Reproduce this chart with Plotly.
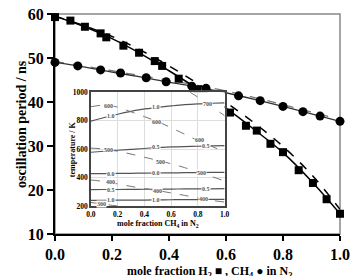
import plotly.graph_objects as go

# ---------------- main data ----------------
x_h2 = [0.0, 0.054, 0.105, 0.16, 0.18, 0.24, 0.295, 0.35, 0.376, 0.434, 0.50,
        0.614, 0.67, 0.708, 0.756, 0.80, 0.855, 0.905, 0.953, 1.0]
y_h2 = [59.3, 58.5, 57.1, 55.6, 54.7, 52.8, 51.2, 49.3, 48.2, 45.3, 42.9,
        37.6, 34.6, 33.5, 30.5, 28.6, 24.5, 21.6, 17.9, 14.6]

x_ch4 = [0.0, 0.08, 0.16, 0.23, 0.32, 0.39, 0.48, 0.53, 0.644, 0.72, 0.80, 0.87, 0.93, 1.0]
y_ch4 = [49.0, 48.2, 47.3, 46.6, 45.5, 44.6, 43.6, 43.1, 41.4, 40.3, 39.0, 37.8, 36.8, 35.6]

x_fit = [0.0, 0.1, 0.2, 0.3, 0.4, 0.5, 0.6, 0.7, 0.8, 0.9, 1.0]
h2_solid = [59.5, 57.2, 54.4, 51.0, 47.1, 43.0, 38.6, 33.7, 28.5, 22.0, 14.6]
h2_dash = [59.5, 57.4, 54.9, 51.8, 48.2, 44.2, 39.9, 35.2, 29.9, 23.5, 15.6]
ch4_solid = [49.0, 48.0, 46.8, 45.7, 44.5, 43.4, 42.1, 40.6, 39.0, 37.3, 35.6]
ch4_dash = [49.2, 48.2, 47.1, 46.0, 44.9, 43.8, 42.5, 41.0, 39.4, 37.7, 36.0]

# ---------------- inset data ----------------
xi = [0.0, 0.1, 0.2, 0.3, 0.4, 0.5, 0.6, 0.7, 0.8, 0.9, 1.0]
phi10_hi = [797, 822, 845, 865, 882, 893, 903, 912, 918, 922, 925]
phi05_hi = [578, 585, 592, 598, 604, 612, 615, 618, 620, 622, 624]
phi00 = [427, 428, 429, 430, 431, 432, 433, 434, 435, 436, 437]
phi05_lo = [315, 316, 316, 317, 318, 318, 319, 320, 321, 321, 322]
phi10_lo = [240, 240, 241, 242, 242, 243, 244, 245, 245, 246, 247]

t600 = [898, 908, 895, 862, 828, 793, 750, 705, 660, 620, 583]
t500 = [607, 600, 585, 565, 543, 520, 497, 470, 440, 408, 376]
t400 = [383, 372, 355, 338, 322, 308, 292, 275, 257, 240, 228]
x700 = [0.74, 0.8, 0.9, 1.0]
t700 = [1000, 965, 900, 835]
x300 = [0.0, 0.1, 0.2]
t300 = [225, 212, 200]

solid_labels = [("1.0", 0.15, 830), ("1.0", 0.49, 895), ("0.5", 0.49, 612), ("0.5", 0.86, 620),
                ("0.0", 0.15, 428), ("0.0", 0.49, 432), ("0.5", 0.15, 316), ("0.5", 0.86, 321),
                ("1.0", 0.15, 240), ("1.0", 0.49, 243)]
dash_labels = [("600", 0.13, 905), ("600", 0.49, 793), ("600", 0.81, 665), ("700", 0.87, 920),
               ("500", 0.13, 595), ("500", 0.52, 512), ("500", 0.83, 430),
               ("400", 0.15, 366), ("400", 0.5, 308), ("400", 0.84, 252), ("300", 0.08, 214)]

FONT = "Liberation Serif"
fig = go.Figure()

# main curves
fig.add_trace(go.Scatter(x=x_fit, y=ch4_dash, mode="lines", line=dict(color="#777", width=1.3, dash="dash", shape="spline"), cliponaxis=False))
fig.add_trace(go.Scatter(x=x_fit, y=ch4_solid, mode="lines", line=dict(color="#333", width=1.3, shape="spline"), cliponaxis=False))
fig.add_trace(go.Scatter(x=x_fit, y=h2_dash, mode="lines", line=dict(color="black", width=1.5, dash="dash", shape="spline"), cliponaxis=False))
fig.add_trace(go.Scatter(x=x_fit, y=h2_solid, mode="lines", line=dict(color="black", width=1.5, shape="spline"), cliponaxis=False))
fig.add_trace(go.Scatter(x=x_h2, y=y_h2, mode="markers", marker=dict(symbol="square", size=8, color="black"), cliponaxis=False))
fig.add_trace(go.Scatter(x=x_ch4, y=y_ch4, mode="markers", marker=dict(symbol="circle", size=9, color="black"), cliponaxis=False))

# inset curves
for ys in [phi10_hi, phi05_hi, phi00, phi05_lo, phi10_lo]:
    fig.add_trace(go.Scatter(x=xi, y=ys, mode="lines", xaxis="x2", yaxis="y2",
                             line=dict(color="#555", width=1.2, shape="spline")))
for xs, ys in [(xi, t600), (xi, t500), (xi, t400), (x700, t700), (x300, t300)]:
    fig.add_trace(go.Scatter(x=xs, y=ys, mode="lines", xaxis="x2", yaxis="y2",
                             line=dict(color="#777", width=1, dash="dash", shape="spline")))

annotations = []
for txt, x, y in solid_labels + dash_labels:
    annotations.append(dict(x=x, y=y, xref="x2", yref="y2", text=txt, showarrow=False,
                            font=dict(family=FONT, size=6, color="#555", weight="bold"),
                            bgcolor="white", borderpad=0))

annotations += [
    dict(x=-0.153, y=0.5, xref="paper", yref="paper", text="oscillation period / ns", textangle=-90,
         showarrow=False, font=dict(family=FONT, size=14, color="black", weight="bold")),
    dict(x=0.541, y=-0.128, xref="paper", yref="paper", yanchor="top",
         text="mole fraction H<sub>2</sub> ■ , CH<sub>4</sub> ● in N<sub>2</sub>",
         showarrow=False, font=dict(family=FONT, size=12, color="black", weight="bold")),
    dict(x=0.3605, y=0.078, xref="paper", yref="paper", yanchor="top",
         text="mole fraction CH<sub>4</sub> in N<sub>2</sub>",
         showarrow=False, font=dict(family=FONT, size=8, color="black", weight="bold")),
    dict(x=0.037, y=0.386, xref="paper", yref="paper", text="temperature / K", textangle=-90,
         showarrow=False, font=dict(family=FONT, size=8, color="black", weight="bold")),
]

fig.update_layout(
    width=356, height=276,
    margin=dict(l=55, r=7, t=6, b=42),
    paper_bgcolor="white", plot_bgcolor="white",
    showlegend=False,
    annotations=annotations,
    shapes=[dict(type="rect", xref="paper", yref="paper", x0=0, x1=1, y0=0, y1=1,
                 line=dict(color="#888", width=1.5), layer="below")],
    xaxis=dict(range=[0, 1.0], tickvals=[0, 0.2, 0.4, 0.6, 0.8, 1.0], ticktext=["0.0", "0.2", "0.4", "0.6", "0.8", "1.0"],
               ticks="outside", ticklen=5, tickwidth=2, tickcolor="black",
               showline=True, linecolor="black", linewidth=2, showgrid=False, zeroline=False,
               tickfont=dict(family=FONT, size=16, color="black", weight="bold")),
    yaxis=dict(range=[10, 60], tickvals=[10, 20, 30, 40, 50, 60],
               ticks="outside", ticklen=6, tickwidth=2, tickcolor="black",
               showline=True, linecolor="black", linewidth=2, showgrid=False, zeroline=False,
               tickfont=dict(family=FONT, size=16, color="black", weight="bold")),
    xaxis2=dict(domain=[0.1259, 0.5952], anchor="y2", range=[0, 1.0],
                tickvals=[0, 0.2, 0.4, 0.6, 0.8, 1.0], ticktext=["0.0", "0.2", "0.4", "0.6", "0.8", "1.0"],
                showline=True, mirror=True, linecolor="#444", linewidth=1.5,
                showgrid=True, gridcolor="#ddd", gridwidth=1, zeroline=False, ticks="",
                tickfont=dict(family=FONT, size=7.5, color="black", weight="bold")),
    yaxis2=dict(domain=[0.1272, 0.6447], anchor="x2", range=[200, 1000],
                tickvals=[200, 400, 600, 800, 1000],
                showline=True, mirror=True, linecolor="#444", linewidth=1.5,
                showgrid=True, gridcolor="#ddd", gridwidth=1, zeroline=False, ticks="",
                tickfont=dict(family=FONT, size=7.5, color="black", weight="bold")),
)

fig.write_html("out.html")
